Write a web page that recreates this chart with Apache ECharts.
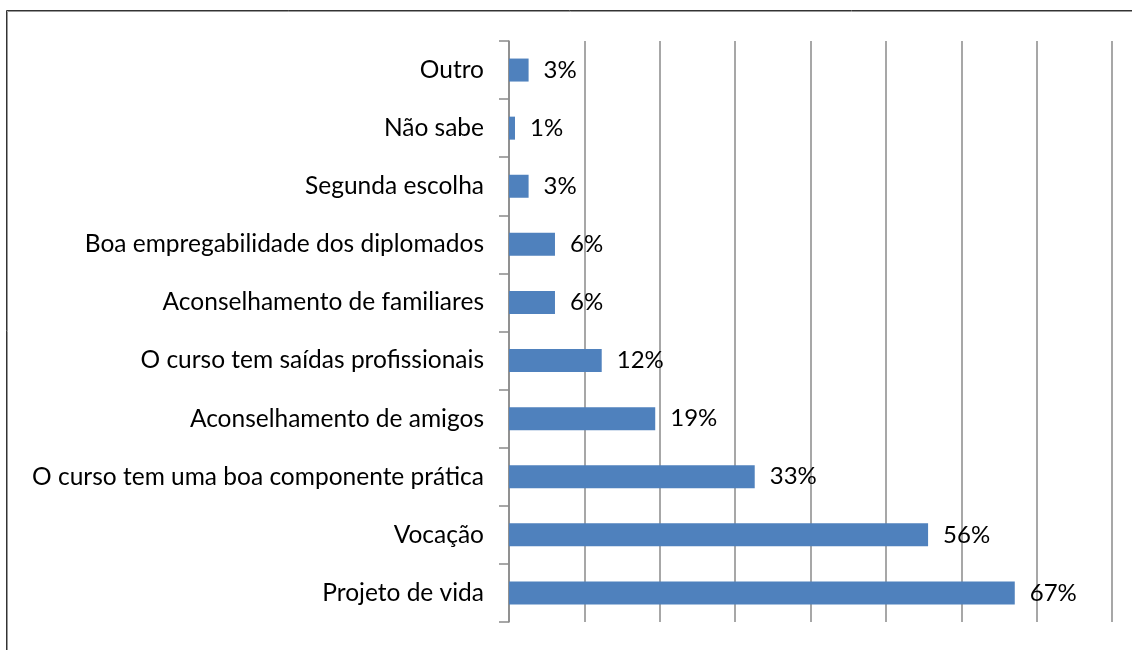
<!DOCTYPE html>
<html>
<head>
<meta charset="utf-8">
<script src="https://cdn.jsdelivr.net/npm/echarts@6/dist/echarts.min.js"></script>
<style>
  html, body { margin: 0; padding: 0; background: #fff; }
  #chart { width: 1132px; height: 650px; }
</style>
</head>
<body>
<div id="chart"></div>
<script>
  // categories, top to bottom
  var categories = [
    'Outro',
    'Não sabe',
    'Segunda escolha',
    'Boa empregabilidade dos diplomados',
    'Aconselhamento de familiares',
    'O curso tem saídas profissionais',
    'Aconselhamento de amigos',
    'O curso tem uma boa componente prática',
    'Vocação',
    'Projeto de vida'
  ]
  // percentages
  var values = [2.6, 0.8, 2.6, 6.1, 6.1, 12.3, 19.4, 32.6, 55.6, 67.1]
  var axisMin = 0
  var axisMax = 80
  var axisStep = 10

  var font = 'Lato'
  var chart = echarts.init(document.getElementById('chart'))

  chart.setOption({
    animation: false,
    backgroundColor: '#fff',
    graphic: [
      {
        type: 'rect',
        shape: { x: 6.5, y: 10.5, width: 1300, height: 800 },
        style: { fill: 'none', stroke: '#333', lineWidth: 1 }
      },
      {
        type: 'rect',
        shape: { x: 7.5, y: 11.5, width: 1300, height: 800 },
        style: { fill: 'none', stroke: '#999', lineWidth: 1 }
      }
    ],
    grid: {
      left: 509,
      top: 41,
      width: 603,
      height: 581,
      containLabel: false
    },
    xAxis: {
      type: 'value',
      min: axisMin,
      max: axisMax,
      interval: axisStep,
      axisLine: { show: false },
      axisTick: { show: false },
      axisLabel: { show: false },
      splitLine: {
        show: true,
        lineStyle: { color: '#8a8a8a', width: 1.5 }
      }
    },
    yAxis: {
      type: 'category',
      inverse: true,
      data: categories,
      axisLine: {
        show: true,
        lineStyle: { color: '#8a8a8a', width: 1.5 }
      },
      axisTick: {
        show: true,
        length: 10,
        lineStyle: { color: '#8a8a8a', width: 1.5 }
      },
      axisLabel: {
        margin: 25,
        color: '#000',
        fontFamily: font,
        fontSize: 24.5
      },
      splitLine: { show: false }
    },
    series: [
      {
        type: 'bar',
        data: values,
        barWidth: 23,
        itemStyle: { color: '#4f81bd' },
        label: {
          show: true,
          position: 'right',
          distance: 15,
          color: '#000',
          fontFamily: font,
          fontSize: 24,
          formatter: function (p) {
            return Math.round(p.value) + '%'
          }
        }
      }
    ]
  })
</script>
</body>
</html>
